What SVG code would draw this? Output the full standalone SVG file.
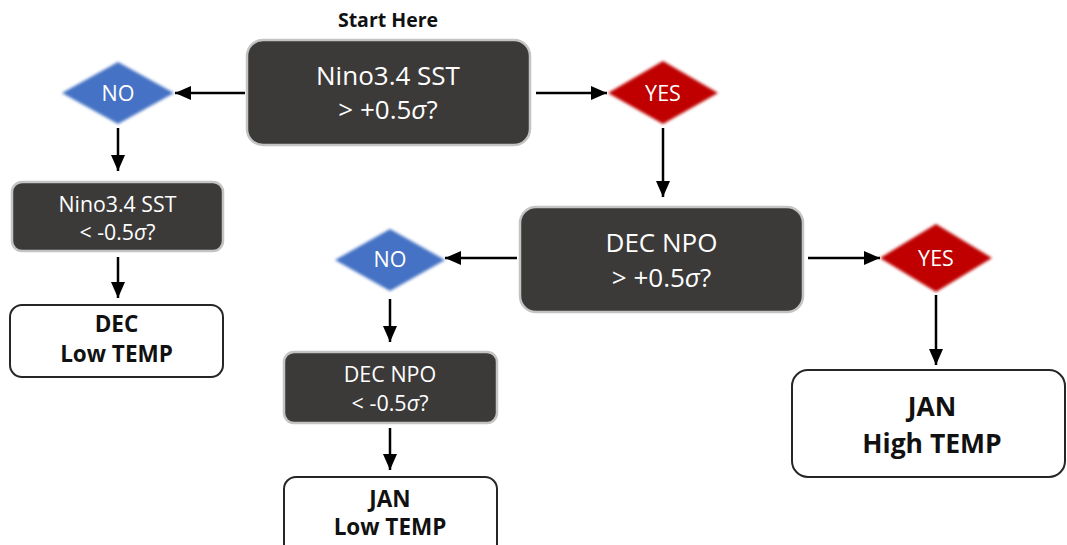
<svg xmlns="http://www.w3.org/2000/svg" width="1067" height="545" viewBox="0 0 1067 545">
<style>
.dark{fill:#3b3a39;stroke:#c4c4c4;stroke-width:2.5}
.light{fill:#ffffff;stroke:#262626;stroke-width:2}
.t{font-family:"Open Sans","Liberation Sans",sans-serif;fill:#ffffff;text-anchor:middle}
.b{font-family:"Open Sans","Liberation Sans",sans-serif;font-weight:bold;fill:#111111;text-anchor:middle}
.blue{fill:#4472c4}
.red{fill:#c00000}
.c line{stroke:#000;stroke-width:2.5;marker-end:url(#ah)}
</style>
<defs>
<marker id="ah" markerUnits="userSpaceOnUse" markerWidth="16" markerHeight="14" refX="16" refY="7" orient="auto">
<path d="M0,0 L16,7 L0,14 z" fill="#000"/>
</marker>
<filter id="soft" x="-10%" y="-10%" width="120%" height="120%"><feGaussianBlur stdDeviation="1.4"/></filter>
</defs>
<rect width="1067" height="545" fill="#ffffff"/>
<text class="b" x="388" y="27" font-size="19.5">Start Here</text>
<g id="start">
<rect class="dark" x="247" y="40" width="283" height="105" rx="16"/>
<text class="t" x="388" y="85" font-size="26">Nino3.4 SST</text>
<text class="t" x="388" y="119" font-size="26">&gt; +0.5<tspan font-style="italic">σ</tspan>?</text>
</g>
<g id="no1">
<polygon class="blue" points="62,93 118,62 174,93 118,124" filter="url(#soft)"/>
<text class="t" x="118" y="101" font-size="21.5">NO</text>
</g>
<g id="yes1">
<polygon class="red" points="608,93 663,61 718,93 663,124" filter="url(#soft)"/>
<text class="t" x="663" y="101" font-size="21.5">YES</text>
</g>
<g id="nino_low">
<rect class="dark" x="12" y="182" width="211" height="69" rx="10"/>
<text class="t" x="117.5" y="212" font-size="21.3">Nino3.4 SST</text>
<text class="t" x="117.5" y="240" font-size="21.3">&lt; -0.5<tspan font-style="italic">σ</tspan>?</text>
</g>
<g id="dec_low">
<rect class="light" x="10" y="305" width="213" height="72" rx="12"/>
<text class="b" x="116.5" y="332" font-size="22.5">DEC</text>
<text class="b" x="116.5" y="362" font-size="22.5">Low TEMP</text>
</g>
<g id="decnpo_high">
<rect class="dark" x="520" y="207" width="283" height="105" rx="16"/>
<text class="t" x="661.5" y="252" font-size="26">DEC NPO</text>
<text class="t" x="661.5" y="287" font-size="26">&gt; +0.5<tspan font-style="italic">σ</tspan>?</text>
</g>
<g id="no2">
<polygon class="blue" points="335,260 390,229 445,260 390,291" filter="url(#soft)"/>
<text class="t" x="390" y="267" font-size="21.5">NO</text>
</g>
<g id="yes2">
<polygon class="red" points="880,258 936,224 992,258 936,292" filter="url(#soft)"/>
<text class="t" x="936" y="266" font-size="21.5">YES</text>
</g>
<g id="decnpo_low">
<rect class="dark" x="284" y="352" width="213" height="71" rx="10"/>
<text class="t" x="390" y="382" font-size="21.5">DEC NPO</text>
<text class="t" x="390" y="411" font-size="21.5">&lt; -0.5<tspan font-style="italic">σ</tspan>?</text>
</g>
<g id="jan_low">
<rect class="light" x="284" y="477" width="213" height="80" rx="12"/>
<text class="b" x="390" y="507" font-size="22.5">JAN</text>
<text class="b" x="390" y="535" font-size="22.5">Low TEMP</text>
</g>
<g id="jan_high">
<rect class="light" x="792" y="370" width="273" height="107" rx="16"/>
<text class="b" x="932" y="416" font-size="26.5">JAN</text>
<text class="b" x="932" y="453" font-size="26.5">High TEMP</text>
</g>
<g id="connectors" class="c">
<line x1="245" y1="93" x2="175" y2="93"/>
<line x1="536" y1="93" x2="607" y2="93"/>
<line x1="118" y1="128" x2="118" y2="171"/>
<line x1="118" y1="257" x2="118" y2="298"/>
<line x1="663" y1="128" x2="663" y2="197"/>
<line x1="517" y1="258" x2="445" y2="258"/>
<line x1="808" y1="258" x2="880" y2="258"/>
<line x1="390" y1="299" x2="390" y2="342"/>
<line x1="390" y1="428" x2="390" y2="470"/>
<line x1="936" y1="295" x2="936" y2="365"/>
</g>
</svg>
